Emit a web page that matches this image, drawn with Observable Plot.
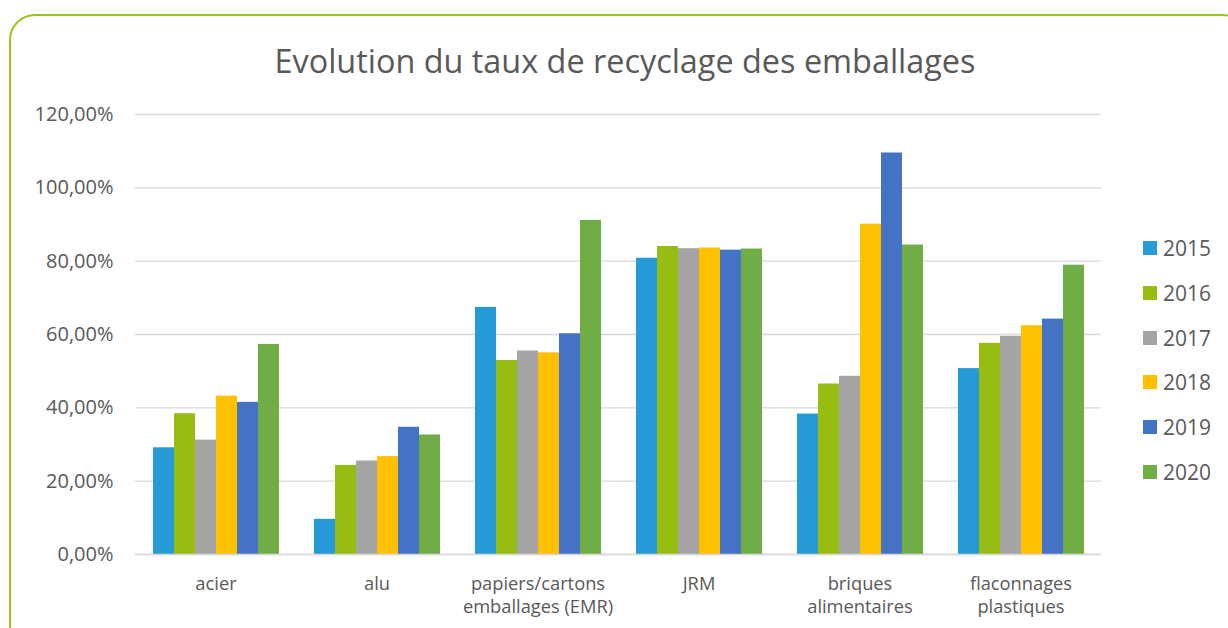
<!DOCTYPE html>
<html>
<head>
<meta charset="utf-8">
<script src="https://cdn.jsdelivr.net/npm/d3@7"></script>
<script src="https://cdn.jsdelivr.net/npm/@observablehq/plot@0.6"></script>
<style>
  html, body { margin: 0; padding: 0; background: #fff; }
  #wrap { position: relative; width: 1228px; height: 628px; overflow: hidden; font-family: "Open Sans", sans-serif; color: #595959; }
  #frame { position: absolute; left: 9px; top: 14px; width: 1240px; height: 640px; border: 2px solid #9BC31B; border-radius: 26px; box-sizing: border-box; }
  #title { position: absolute; left: 0; width: 1250px; top: 38px; text-align: center; font-size: 32.4px; line-height: 44px; color: #595959; }
  #chart { position: absolute; left: 0; top: 90px; }
  #legend { position: absolute; left: 1143px; top: 226px; }
  .item { display: flex; align-items: center; height: 44.7px; font-size: 21px; color: #595959; }
  .sw { width: 14px; height: 14px; margin-right: 6px; }
</style>
</head>
<body>
<div id="wrap">
  <div id="frame"></div>
  <div id="title">Evolution du taux de recyclage des emballages</div>
  <div id="chart"></div>
  <div id="legend"></div>
</div>
<script>
const categories = ["acier", "alu", "papiers/cartons\nemballages (EMR)", "JRM", "briques\nalimentaires", "flaconnages\nplastiques"];
const years = ["2015", "2016", "2017", "2018", "2019", "2020"];
const colors = ["#259AD6", "#97BD12", "#A5A5A5", "#FFC000", "#4472C4", "#70AD47"];
const v2015 = [29.1, 9.6, 67.4, 80.8, 38.3, 50.7];
const v2016 = [38.4, 24.3, 52.9, 84.0, 46.5, 57.6];
const v2017 = [31.2, 25.5, 55.5, 83.4, 48.6, 59.5];
const v2018 = [43.2, 26.7, 55.0, 83.6, 90.1, 62.4];
const v2019 = [41.5, 34.7, 60.2, 83.0, 109.5, 64.2];
const v2020 = [57.3, 32.6, 91.1, 83.3, 84.4, 78.9];
const yTicks = [0, 0.2, 0.4, 0.6, 0.8, 1.0, 1.2];

const series = [v2015, v2016, v2017, v2018, v2019, v2020];
const data = [];
years.forEach((yr, i) => categories.forEach((c, j) => data.push({category: c, year: yr, value: series[i][j] / 100})));

const fmt = d => (d * 100).toFixed(2).replace(".", ",") + "%";

const chart = Plot.plot({
  width: 1228,
  height: 538,
  marginLeft: 133,
  marginRight: 125,
  marginTop: 24,
  marginBottom: 74,
  style: {fontFamily: "Open Sans, sans-serif", color: "#595959", background: "transparent"},
  fx: {domain: categories, padding: 0, label: null},
  x: {domain: years, paddingInner: 0, paddingOuter: 0.66, axis: null},
  y: {domain: [0, 1.2], label: null},
  color: {domain: years, range: colors},
  marks: [
    Plot.gridY(yTicks, {stroke: "#D9D9D9", strokeOpacity: 1, strokeWidth: 1.3}),
    Plot.barY(data, {fx: "category", x: "year", y: "value", fill: "year"}),
    Plot.ruleY([0], {stroke: "#D9D9D9", strokeWidth: 1.3}),
    Plot.axisY(yTicks, {tickSize: 0, tickPadding: 22, tickFormat: fmt, fontSize: 20, label: null}),
    Plot.axisFx({anchor: "bottom", tickSize: 0, tickPadding: 19, fontSize: 18.3, lineHeight: 1.26, label: null})
  ]
});
document.getElementById("chart").appendChild(chart);

const legend = document.getElementById("legend");
years.forEach((yr, i) => {
  const item = document.createElement("div");
  item.className = "item";
  const sw = document.createElement("div");
  sw.className = "sw";
  sw.style.background = colors[i];
  const t = document.createElement("span");
  t.textContent = yr;
  item.appendChild(sw);
  item.appendChild(t);
  legend.appendChild(item);
});
</script>
</body>
</html>
